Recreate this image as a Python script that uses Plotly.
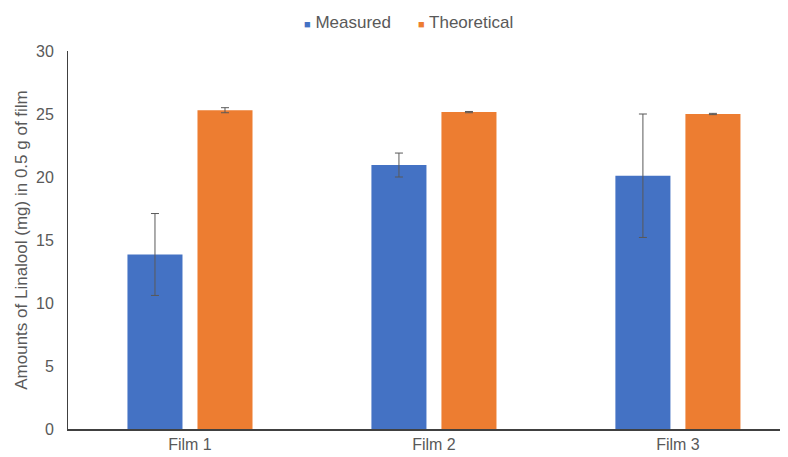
import plotly.graph_objects as go

categories = ["Film 1", "Film 2", "Film 3"]
measured = [13.85, 20.95, 20.1]
measured_err = [3.25, 0.95, 4.9]
theoretical = [25.3, 25.15, 25.0]
theoretical_err = [0.2, 0.05, 0.05]
y_ticks = [0, 5, 10, 15, 20, 25, 30]
series_names = ["Measured", "Theoretical"]
series_colors = ["#4472C4", "#ED7D31"]

font_family = "Liberation Sans, Arial, sans-serif"
grey = "#595959"

fig = go.Figure()
for name, color, vals, errs in zip(series_names, series_colors,
                                   [measured, theoretical],
                                   [measured_err, theoretical_err]):
    fig.add_trace(go.Bar(
        x=categories, y=vals, name=name,
        marker=dict(color=color, line=dict(width=0)),
        error_y=dict(type="data", array=errs, visible=True,
                     color="#595959", thickness=1, width=4),
    ))

# compact legend drawn as text (small square swatch close to the label)
legend_x = [0.3214, 0.4780]
for name, color, lx in zip(series_names, series_colors, legend_x):
    fig.add_annotation(
        xref="paper", yref="paper", x=lx, y=1.0767,
        xanchor="left", yanchor="middle", showarrow=False,
        text=f"<span style='color:{color};font-size:11px'>■</span> {name}",
        font=dict(size=17, color=grey, family=font_family),
    )

fig.update_layout(
    width=788, height=457,
    margin=dict(l=60, r=0, t=43, b=36),
    paper_bgcolor="white", plot_bgcolor="white",
    barmode="group", bargap=0.426, bargroupgap=0.214,
    font=dict(family=font_family, size=16, color=grey),
    showlegend=False,
    xaxis=dict(range=[-0.5, 2.484], showline=True, linecolor="#404040",
               linewidth=1.5, ticks="", showgrid=False, zeroline=False,
               tickfont=dict(size=16, color=grey), fixedrange=True),
    yaxis=dict(range=[0, 30], tickvals=y_ticks, showline=True,
               linecolor="#404040", linewidth=1, ticks="", showgrid=False,
               zeroline=False, ticklabelstandoff=10,
               tickfont=dict(size=16, color=grey),
               title=dict(text="Amounts of Linalool (mg) in 0.5 g of film",
                          font=dict(size=17, color=grey), standoff=4)),
)

fig.write_html("out.html")
